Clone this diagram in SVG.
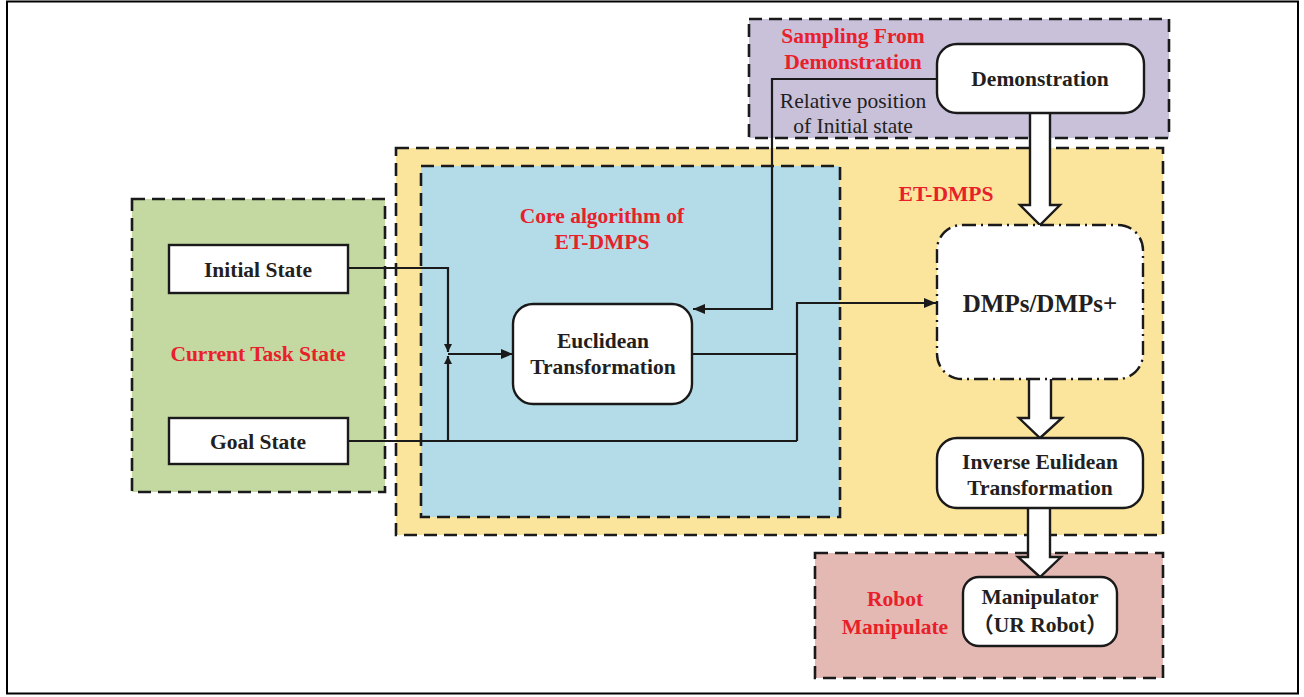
<svg xmlns="http://www.w3.org/2000/svg" width="1304" height="697" viewBox="0 0 1304 697">
  <style>
    .region { stroke: #1a1a1a; stroke-width: 2.6; stroke-dasharray: 13 7; }
    .box { fill: #ffffff; stroke: #1a1a1a; stroke-width: 2.4; }
    .wire { fill: none; stroke: #1a1a1a; stroke-width: 2.2; }
    .fat { fill: #ffffff; stroke: #1a1a1a; stroke-width: 2.4; stroke-linejoin: miter; }
    text { font-family: "Liberation Serif", "DejaVu Serif", serif; }
    .t { font-weight: bold; font-size: 21.5px; fill: #231f20; text-anchor: middle; }
    .red { fill: #e8202a; }
    .plain { font-weight: normal; font-size: 21.5px; }
    .big { font-size: 25px; }
  </style>
  <defs>
    <marker id="head" viewBox="0 0 10 10" refX="10" refY="5" markerWidth="8" markerHeight="8" markerUnits="userSpaceOnUse" orient="auto">
      <path d="M0,0 L10,5 L0,10 z" fill="#1a1a1a"/>
    </marker>
    <marker id="headL" viewBox="0 0 12 10" refX="12" refY="5" markerWidth="13" markerHeight="10" markerUnits="userSpaceOnUse" orient="auto">
      <path d="M0,0 L12,5 L0,10 z" fill="#1a1a1a"/>
    </marker>
  </defs>

  <rect x="0" y="0" width="1304" height="697" fill="#ffffff"/>
  <!-- outer frame -->
  <rect x="7" y="1.5" width="1291" height="692" fill="none" stroke="#000" stroke-width="2"/>

  <!-- regions -->
  <g id="region-sampling">
    <rect class="region" x="749" y="19" width="420" height="119" fill="#c9c0da"/>
    <text class="t red" x="853" y="43">Sampling From</text>
    <text class="t red" x="853" y="69">Demonstration</text>
  </g>
  <g id="region-etdmps">
    <rect class="region" x="396" y="148" width="767" height="387" fill="#fbe49c"/>
    <text class="t red" x="946" y="201">ET-DMPS</text>
  </g>
  <g id="region-core">
    <rect class="region" x="421" y="166" width="419" height="351" fill="#b4dce8"/>
    <text class="t red" x="602" y="223">Core algorithm of</text>
    <text class="t red" x="602" y="249">ET-DMPS</text>
  </g>
  <g id="region-current">
    <rect class="region" x="132" y="199" width="253" height="293" fill="#c4d8a2"/>
    <text class="t red" x="258" y="361">Current Task State</text>
  </g>
  <g id="region-robot">
    <rect class="region" x="815" y="553" width="348" height="125" fill="#e4b8b3"/>
    <text class="t red" x="895" y="606">Robot</text>
    <text class="t red" x="895" y="634">Manipulate</text>
  </g>

  <!-- connectors -->
  <g id="connectors">
    <polyline class="wire" points="348,268 448,268 448,352" marker-end="url(#head)"/>
    <polyline class="wire" points="348,441 797,441"/>
    <polyline class="wire" points="448,441 448,356" marker-end="url(#head)"/>
    <polyline class="wire" points="448,354 513,354" marker-end="url(#headL)"/>
    <polyline class="wire" points="692,354 797,354"/>
    <polyline class="wire" points="797,441 797,303 936,303" marker-end="url(#headL)"/>
    <polyline class="wire" points="937,79 772,79 772,309 693,309" marker-end="url(#headL)"/>
    <!-- hollow block arrows -->
    <path class="fat" d="M1030,113 L1030,205 L1020,205 L1040,225 L1060,205 L1050,205 L1050,113"/>
    <path class="fat" d="M1029,379 L1029,418 L1019,418 L1040,438 L1062,418 L1051,418 L1051,379"/>
    <path class="fat" d="M1028,508 L1028,557 L1018,557 L1040,577 L1061,557 L1050,557 L1050,508"/>
  </g>
  <text class="t plain" x="853" y="108">Relative position</text>
  <text class="t plain" x="853" y="133">of Initial state</text>

  <!-- nodes -->
  <g id="node-demonstration">
    <rect class="box" x="937" y="44" width="207" height="69" rx="20"/>
    <text class="t" x="1040" y="86">Demonstration</text>
  </g>
  <g id="node-initial">
    <rect class="box" x="169" y="245" width="179" height="48"/>
    <text class="t" x="258" y="277">Initial State</text>
  </g>
  <g id="node-goal">
    <rect class="box" x="169" y="418" width="179" height="46"/>
    <text class="t" x="258" y="449">Goal State</text>
  </g>
  <g id="node-euclidean">
    <rect class="box" x="513" y="304" width="179" height="100" rx="20"/>
    <text class="t" x="603" y="348">Euclidean</text>
    <text class="t" x="603" y="374">Transformation</text>
  </g>
  <g id="node-dmps">
    <rect x="937" y="225" width="206" height="154" rx="25" fill="#ffffff" stroke="#1a1a1a" stroke-width="2.4" stroke-dasharray="14 5 2 5"/>
    <text class="t big" x="1040" y="312">DMPs/DMPs+</text>
  </g>
  <g id="node-inverse">
    <rect class="box" x="937" y="438" width="206" height="70" rx="20"/>
    <text class="t" x="1040" y="469">Inverse Eulidean</text>
    <text class="t" x="1040" y="495">Transformation</text>
  </g>
  <g id="node-manipulator">
    <rect class="box" x="963" y="577" width="154" height="69" rx="16"/>
    <text class="t" x="1040" y="604">Manipulator</text>
    <text class="t" x="1040" y="632" style="font-family:'Liberation Serif','Noto Sans CJK SC',serif">（UR Robot）</text>
  </g>
</svg>
